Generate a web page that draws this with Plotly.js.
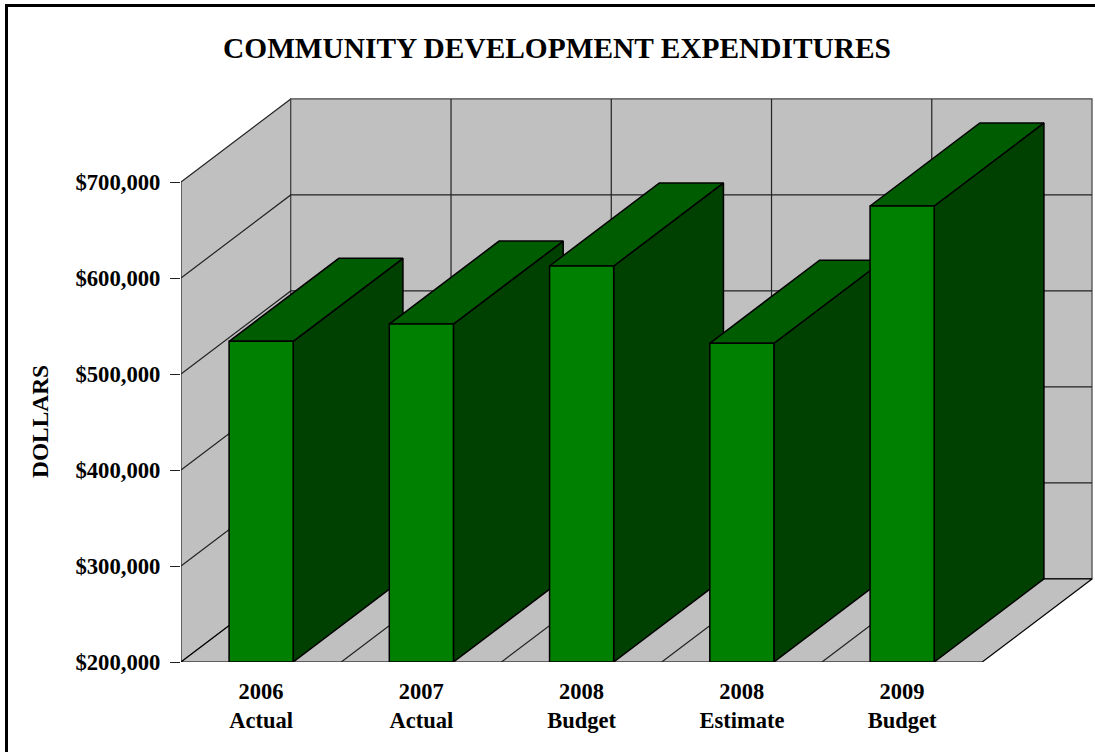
<!DOCTYPE html>
<html>
<head>
<meta charset="utf-8">
<script src="https://cdn.plot.ly/plotly-3.0.1.min.js"></script>
<style>html,body{margin:0;padding:0;background:#fff;overflow:hidden}</style>
</head>
<body>
<div id="chart" style="width:1095px;height:752px"></div>
<script>
// Community development spending, drawn as oblique 3D columns.
const years = ["2006", "2007", "2008", "2008", "2009"];
const kinds = ["Actual", "Actual", "Budget", "Estimate", "Budget"];
const dollars = [534000, 552000, 612500, 532000, 675000];
const dollarTicks = [200000, 300000, 400000, 500000, 600000, 700000];
const dollarLabels = ["$200,000", "$300,000", "$400,000", "$500,000", "$600,000", "$700,000"];

// Oblique projection: how far the back plane sits from the front plane, in axis units.
const depthX = 0.685;
const depthY = 86500;
const barHalf = 0.2;
const xMin = -0.5;
const xMax = 5.2036;
const yMin = 200000;
const yMax = 787500;
const yTop = 700000;
const xFront = xMin + years.length;

const serif = '"Liberation Serif", "Times New Roman", serif';
const traces = [];

function poly(xs, ys, fill, lineColor, width) {
  traces.push({
    type: "scatter", mode: "lines", x: xs.concat(xs[0]), y: ys.concat(ys[0]),
    fill: "toself", fillcolor: fill,
    line: {color: lineColor || "#000", width: width || 1},
    hoverinfo: "skip", showlegend: false, cliponaxis: false
  });
}
function lines(xs, ys, color, width) {
  traces.push({
    type: "scatter", mode: "lines", x: xs, y: ys,
    line: {color: color, width: width},
    hoverinfo: "skip", showlegend: false, cliponaxis: false
  });
}

// Walls and floor
const wall = "#C0C0C0";
poly([xMin, xMin + depthX, xMin + depthX, xMin], [yMin, yMin + depthY, yTop + depthY, yTop], wall, "#222", 1.2);
poly([xMin + depthX, xFront + depthX, xFront + depthX, xMin + depthX],
     [yMin + depthY, yMin + depthY, yTop + depthY, yTop + depthY], wall, "#444", 1.2);
poly([xMin, xFront, xFront + depthX, xMin + depthX], [yMin, yMin, yMin + depthY, yMin + depthY], wall, "#000", 1.2);

// Gridlines across the walls and floor
const gridX = [], gridY = [];
dollarTicks.slice(1, -1).forEach(v => {
  gridX.push(xMin, xMin + depthX, xFront + depthX, null);
  gridY.push(v, v + depthY, v + depthY, null);
});
years.slice(1).forEach((_, i) => {
  const b = xMin + i + 1;
  gridX.push(b, b + depthX, b + depthX, null);
  gridY.push(yMin, yMin + depthY, yTop + depthY, null);
});
lines(gridX, gridY, "#222", 1.2);

// Columns, left to right so each one overlaps the side of the previous one
dollars.forEach((v, i) => {
  const l = i - barHalf, r = i + barHalf;
  poly([r, r + depthX, r + depthX, r], [yMin, yMin + depthY, v + depthY, v], "#004000", "#000", 1.5);
  poly([l, r, r + depthX, l + depthX], [v, v, v + depthY, v + depthY], "#005C00", "#000", 1.5);
  poly([l, r, r, l], [yMin, yMin, v, v], "#008000", "#000", 1.5);
});

const plotW = 1095 - 181;
const plotH = 752 - 98 - 90;
const layout = {
  width: 1095, height: 752,
  margin: {l: 181, r: 0, t: 98, b: 90, pad: 0},
  paper_bgcolor: "#fff", plot_bgcolor: "rgba(0,0,0,0)",
  showlegend: false,
  title: {
    text: "COMMUNITY DEVELOPMENT EXPENDITURES",
    font: {family: serif, size: 29.4, color: "#000", weight: "bold"},
    x: 557 / 1095, xanchor: "center", xref: "container",
    y: 1 - 48 / 752, yanchor: "middle", yref: "container"
  },
  xaxis: {
    range: [xMin, xMax], showgrid: false, zeroline: false, showline: false,
    tickmode: "array", tickvals: years.map((_, i) => i),
    ticktext: years.map((y, i) => y + "<br>" + kinds[i]),
    ticks: "", ticklen: 0, tickangle: 0, automargin: false, ticklabelstandoff: 13,
    tickfont: {family: serif, size: 22.5, color: "#000", weight: "bold"}
  },
  yaxis: {
    range: [yMin, yMax], showgrid: false, zeroline: false, showline: false,
    tickmode: "array", tickvals: dollarTicks, ticktext: dollarLabels,
    ticks: "outside", ticklen: 10, tickwidth: 1.2, tickcolor: "#222", automargin: false,
    ticklabelstandoff: 5,
    tickfont: {family: serif, size: 22.7, color: "#000", weight: "bold"}
  },
  annotations: [{
    text: "DOLLARS", textangle: -90, showarrow: false,
    xref: "paper", x: -141 / plotW, xanchor: "center",
    yref: "y", y: (yMin + yTop) / 2, yanchor: "middle",
    font: {family: serif, size: 23.4, color: "#000", weight: "bold"}
  }],
  // Frame along the top and left of the figure; it runs off the page on the other two sides
  shapes: [{
    type: "rect", xref: "paper", yref: "paper",
    x0: -174.5 / plotW, x1: 1.2, y0: -0.3, y1: 1 + 92.5 / plotH,
    line: {color: "#000", width: 3}, fillcolor: "rgba(0,0,0,0)", layer: "above"
  }]
};

Plotly.newPlot("chart", traces, layout, {displayModeBar: false, responsive: false});
</script>
</body>
</html>
